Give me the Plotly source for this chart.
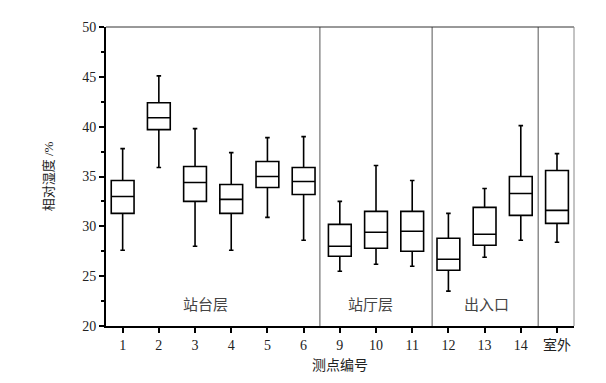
import plotly.graph_objects as go

categories = ["1", "2", "3", "4", "5", "6", "9", "10", "11", "12", "13", "14", "室外"]
upper = [37.8, 45.1, 39.8, 37.4, 38.9, 39.0, 32.5, 36.1, 34.6, 31.3, 33.8, 40.1, 37.3]
q3 = [34.6, 42.4, 36.0, 34.2, 36.5, 35.9, 30.2, 31.5, 31.5, 28.8, 31.9, 35.0, 35.6]
median = [33.0, 40.9, 34.4, 32.7, 35.0, 34.5, 28.0, 29.4, 29.5, 26.7, 29.2, 33.3, 31.6]
q1 = [31.3, 39.7, 32.5, 31.3, 33.9, 33.2, 27.0, 27.8, 27.5, 25.6, 28.1, 31.1, 30.3]
lower = [27.6, 35.9, 28.0, 27.6, 30.9, 28.6, 25.5, 26.2, 26.0, 23.5, 26.9, 28.6, 28.4]
group_labels = ["站台层", "站厅层", "出入口"]
group_label_x = [2.3, 6.85, 10.05]

FONT = "Liberation Serif, Times New Roman, Noto Sans CJK SC, serif"

fig = go.Figure()
fig.add_trace(go.Box(
    x=categories, q1=q1, median=median, q3=q3,
    lowerfence=lower, upperfence=upper,
    boxpoints=False, fillcolor="white",
    line=dict(color="black", width=1.6),
    whiskerwidth=0.2, width=0.63, showlegend=False,
))

shapes = []
for xs in [5.45, 8.55, 11.48]:
    shapes.append(dict(type="line", xref="x", yref="paper", x0=xs, x1=xs, y0=0, y1=1,
                       line=dict(color="#555555", width=1)))
shapes.append(dict(type="line", xref="paper", yref="paper", x0=0, x1=1, y0=1, y1=1,
                   line=dict(color="#333333", width=1)))
shapes.append(dict(type="line", xref="paper", yref="paper", x0=1, x1=1, y0=0, y1=1,
                   line=dict(color="#888888", width=1)))

annotations = [dict(x=gx, y=22.1, xref="x", yref="y", text=t, showarrow=False,
                    font=dict(family=FONT, size=15, color="#444444"))
               for gx, t in zip(group_label_x, group_labels)]

fig.update_layout(
    width=598, height=375,
    margin=dict(l=98, r=32, t=18, b=49),
    paper_bgcolor="white", plot_bgcolor="white",
    font=dict(family=FONT, size=14, color="#222222"),
    shapes=shapes, annotations=annotations,
    xaxis=dict(
        type="category", range=[-0.46, 12.47],
        showline=True, linecolor="black", linewidth=2,
        ticks="outside", ticklen=5, tickwidth=1.5, tickcolor="black",
        showgrid=False, zeroline=False,
        title=dict(text="测点编号", font=dict(size=14), standoff=8),
        tickfont=dict(size=14),
    ),
    yaxis=dict(
        range=[20, 50], tickvals=[20, 25, 30, 35, 40, 45, 50],
        showline=True, linecolor="black", linewidth=2,
        ticks="outside", ticklen=5, tickwidth=1.5, tickcolor="black",
        minor=dict(ticks="outside", ticklen=3, tickcolor="black", dtick=2.5, tick0=20),
        showgrid=False, zeroline=False,
        title=dict(text="相对湿度 /%", font=dict(size=13), standoff=26),
        tickfont=dict(size=14),
    ),
)

fig.write_html("out.html")
